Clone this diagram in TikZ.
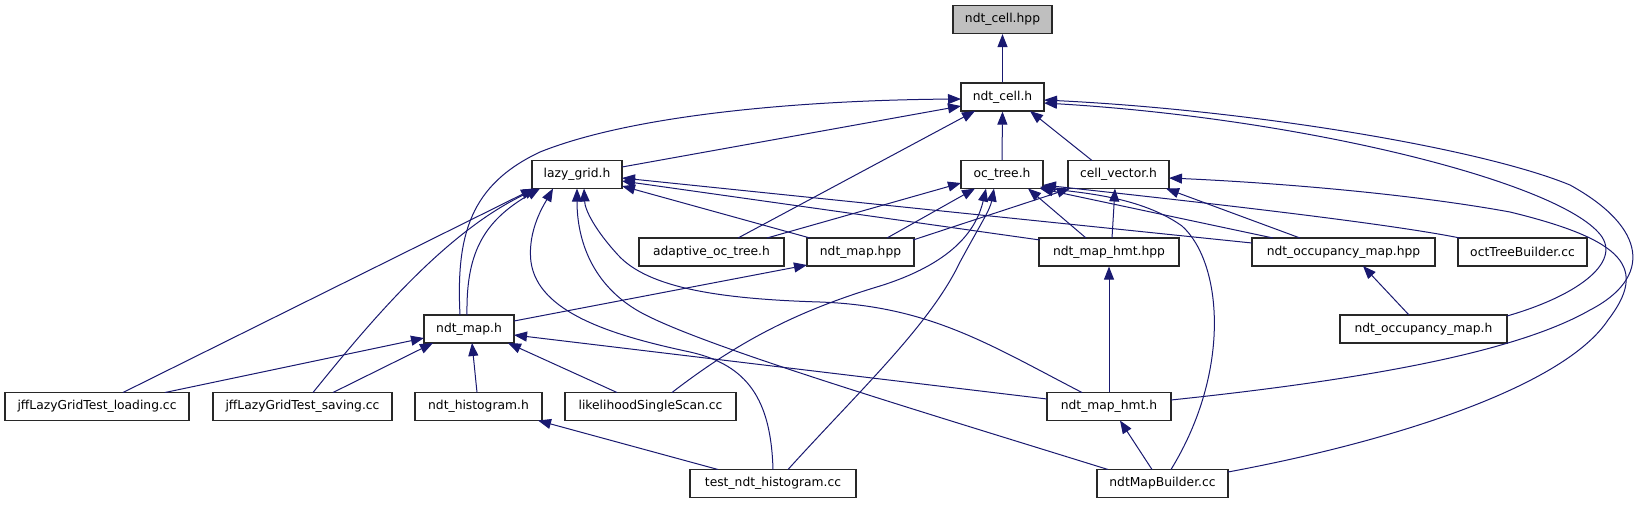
\documentclass[tikz,border=0pt]{standalone}
\usepackage{fontspec}
\setmainfont{DejaVu Sans}
\usetikzlibrary{arrows.meta,calc}
\definecolor{edgeblue}{RGB}{25,25,112}
\definecolor{boxline}{RGB}{40,40,40}
\definecolor{rootfill}{RGB}{191,191,191}
\begin{document}
\begin{tikzpicture}[x=1pt,y=-1pt,
  box/.style={draw=boxline,line width=1.2pt,fill=white,minimum height=28pt,inner sep=0pt,font=\fontsize{12.3}{14}\selectfont},
  edge/.style={draw=edgeblue,line width=1pt,-{Triangle[length=13pt,width=10pt]}}]
\fill[white] (0,0) rectangle (1635,504);
\useasboundingbox (0,0) rectangle (1635,504);
% nodes
\node[box,fill=rootfill,minimum width=99pt] (ndtcellhpp) at (1002.5,19.5) {ndt\_cell.hpp};
\node[box,minimum width=83pt] (ndtcellh) at (1002.5,97) {ndt\_cell.h};
\node[box,minimum width=90pt] (lazygrid) at (577,174.5) {lazy\_grid.h};
\node[box,minimum width=82pt] (octree) at (1002,174.5) {oc\_tree.h};
\node[box,minimum width=101pt] (cellvector) at (1118.5,174.5) {cell\_vector.h};
\node[box,minimum width=145pt] (adaptive) at (711.5,252) {adaptive\_oc\_tree.h};
\node[box,minimum width=107pt] (ndtmaphpp) at (860.5,252) {ndt\_map.hpp};
\node[box,minimum width=140pt] (hmthpp) at (1109,252) {ndt\_map\_hmt.hpp};
\node[box,minimum width=183pt] (occhpp) at (1343.5,252) {ndt\_occupancy\_map.hpp};
\node[box,minimum width=129pt] (octbuilder) at (1522.5,252) {octTreeBuilder.cc};
\node[box,minimum width=90pt] (ndtmaph) at (469,329) {ndt\_map.h};
\node[box,minimum width=167pt] (occh) at (1423.5,329) {ndt\_occupancy\_map.h};
\node[box,minimum width=184pt] (loading) at (97,406.5) {jffLazyGridTest\_loading.cc};
\node[box,minimum width=179pt] (saving) at (302.5,406.5) {jffLazyGridTest\_saving.cc};
\node[box,minimum width=127pt] (histogram) at (478.5,406.5) {ndt\_histogram.h};
\node[box,minimum width=171pt] (likelihood) at (650.5,406.5) {likelihoodSingleScan.cc};
\node[box,minimum width=124pt] (hmth) at (1109,406.5) {ndt\_map\_hmt.h};
\node[box,minimum width=166pt] (testhist) at (773,483.5) {test\_ndt\_histogram.cc};
\node[box,minimum width=131pt] (builder) at (1162.5,483.5) {ndtMapBuilder.cc};
% edges into ndt_cell.hpp / ndt_cell.h
\draw[edge] (ndtcellh.north) -- (ndtcellhpp.south);
\draw[edge] ($(lazygrid)+(45,-7.5)$) -- ($(ndtcellh)+(-41.5,9)$);
\draw[edge] ($(ndtmaph)+(-9,-14)$) .. controls (456,235) and (470,185) .. (540,152) .. controls (640,112) and (820,100) .. ($(ndtcellh)+(-41.5,2)$);
\draw[edge] (octree.north) -- (ndtcellh.south);
\draw[edge] ($(cellvector)+(-26.5,-14)$) -- ($(ndtcellh)+(27.5,14)$);
\draw[edge] ($(adaptive)+(26.5,-14)$) -- ($(ndtcellh)+(-27.5,14)$);
\draw[edge] ($(occh)+(83.5,-13)$) .. controls (1580,295) and (1625,260) .. (1598,232) .. controls (1550,180) and (1300,118) .. ($(ndtcellh)+(41.5,6)$);
\draw[edge] ($(hmth)+(62,-6.5)$) .. controls (1380,378) and (1520,350) .. (1590,310) .. controls (1652,278) and (1648,228) .. (1570,185) .. controls (1480,148) and (1250,110) .. ($(ndtcellh)+(41.5,3)$);
% edges into lazy_grid.h
\draw[edge] ($(loading)+(26,-14)$) -- ($(lazygrid)+(-43,14)$);
\draw[edge] ($(saving)+(10.5,-14)$) .. controls (370,322) and (445,232) .. ($(lazygrid)+(-40,14)$);
\draw[edge] ($(ndtmaph)+(-2,-14)$) .. controls (466,255) and (482,222) .. ($(lazygrid)+(-37,14)$);
\draw[edge] ($(ndtmaphpp)+(-50.5,-14)$) -- ($(lazygrid)+(45,11.5)$);
\draw[edge] ($(hmthpp)+(-69,-12)$) -- ($(lazygrid)+(45,6.5)$);
\draw[edge] ($(occhpp)+(-91.5,-9)$) -- ($(lazygrid)+(45,3.5)$);
\draw[edge] ($(testhist)+(0,-14)$) .. controls (771,400) and (748,365) .. (690,352) .. controls (610,335) and (538,312) .. (531,262) .. controls (527,230) and (545,203) .. ($(lazygrid)+(-24,14)$);
\draw[edge] ($(builder)+(-54.5,-14)$) .. controls (900,405) and (700,345) .. (640,312) .. controls (592,285) and (577,240) .. ($(lazygrid)+(0,14)$);
\draw[edge] ($(hmth)+(-27,-14)$) .. controls (990,345) and (930,306) .. (820,302) .. controls (720,299) and (648,288) .. (618,255) .. controls (595,230) and (585,210) .. ($(lazygrid)+(7,14)$);
% edges into oc_tree.h
\draw[edge] ($(adaptive)+(55.5,-14)$) -- ($(octree)+(-41,8.5)$);
\draw[edge] ($(ndtmaphpp)+(26.5,-14)$) -- ($(octree)+(-27,14)$);
\draw[edge] ($(likelihood)+(21.5,-14)$) .. controls (740,340) and (800,310) .. (880,286) .. controls (950,264) and (976,232) .. ($(octree)+(-16,14)$);
\draw[edge] ($(testhist)+(15,-14)$) .. controls (860,390) and (930,325) .. (960,262) .. controls (980,225) and (990,210) .. ($(octree)+(-8,14)$);
\draw[edge] ($(hmthpp)+(-23,-14)$) -- ($(octree)+(26,14)$);
\draw[edge] ($(occhpp)+(-70.5,-14)$) -- ($(octree)+(38,14)$);
\draw[edge] ($(octbuilder)+(-62.5,-14)$) .. controls (1380,222) and (1180,200) .. ($(octree)+(41,10.5)$);
\draw[edge] ($(builder)+(8.5,-14)$) .. controls (1232,370) and (1222,262) .. (1182,226) .. controls (1140,196) and (1080,193) .. ($(octree)+(38,12.5)$);
% edges into cell_vector.h
\draw[edge] ($(ndtmaphpp)+(52.5,-12)$) -- ($(cellvector)+(-48.5,14)$);
\draw[edge] ($(hmthpp)+(3,-14)$) -- ($(cellvector)+(-3.5,14)$);
\draw[edge] ($(occhpp)+(-43.5,-14)$) -- ($(cellvector)+(47.5,14)$);
\draw[edge] ($(builder)+(65.5,-11.5)$) .. controls (1400,440) and (1565,385) .. (1608,320) .. controls (1648,268) and (1625,240) .. (1510,212) .. controls (1400,192) and (1260,182) .. ($(cellvector)+(50.5,3.5)$);
% edges into ndt_map.h
\draw[edge] ($(loading)+(68,-14)$) -- ($(ndtmaph)+(-45,9)$);
\draw[edge] ($(saving)+(30.5,-14)$) -- ($(ndtmaph)+(-36,14)$);
\draw[edge] ($(histogram)+(-1.5,-14)$) -- ($(ndtmaph)+(3,14)$);
\draw[edge] ($(likelihood)+(-33.5,-14)$) -- ($(ndtmaph)+(39,14)$);
\draw[edge] ($(hmth)+(-62,-7.5)$) -- ($(ndtmaph)+(45,6)$);
% remaining edges
\draw[edge] ($(ndtmaph)+(45,-8)$) -- ($(ndtmaphpp)+(-53.5,13)$);
\draw[edge] ($(testhist)+(-55,-14)$) -- ($(histogram)+(59.5,14)$);
\draw[edge] ($(builder)+(-10.5,-14)$) -- ($(hmth)+(11,14)$);
\draw[edge] (hmth.north) -- (hmthpp.south);
\draw[edge] ($(occh)+(-14.5,-14)$) -- ($(occhpp)+(19.5,14)$);
\end{tikzpicture}
\end{document}
